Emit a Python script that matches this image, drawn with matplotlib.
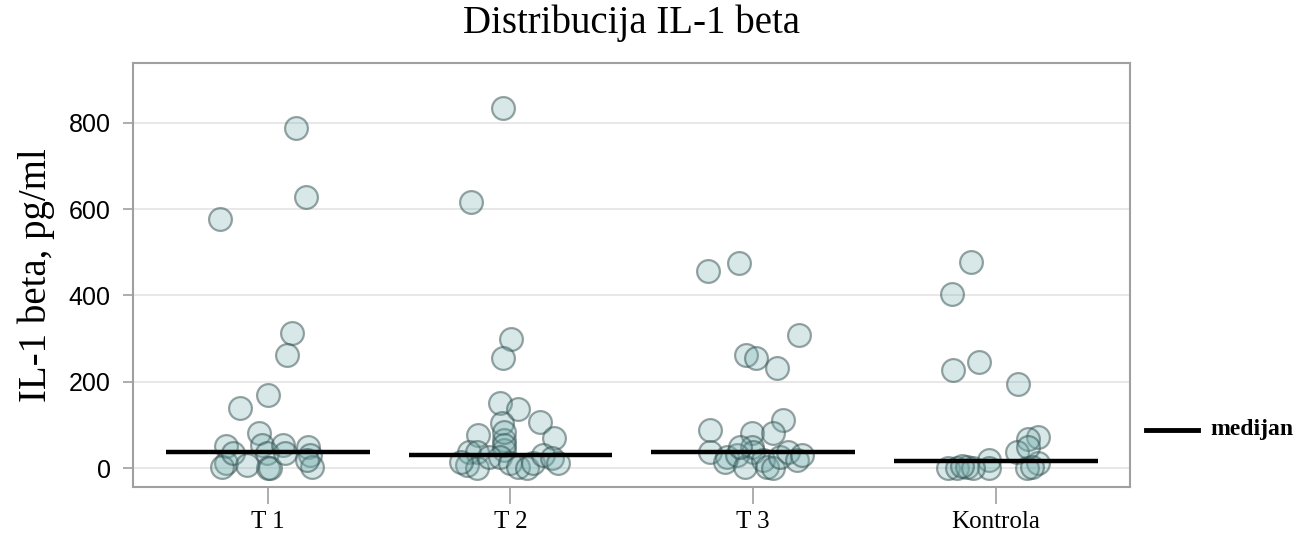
import matplotlib
matplotlib.use("Agg")
import matplotlib.pyplot as plt
from matplotlib.lines import Line2D
import numpy as np

# groups (jitter offsets in category units)
groups = ['T 1', 'T 2', 'T 3', 'Kontrola']

t1_vals = [789, 629, 578, 313, 262, 169, 139, 81, 51, 12, 3, 35, 7, 53, 35, 0, 0, 53, 35, 49, 30, 3, 19]
t1_jit = [0.116, 0.157, -0.198, 0.099, 0.079, 0.0, -0.116, -0.037, -0.173, -0.173, -0.19, -0.144, -0.087,
          -0.025, -0.004, 0.0, 0.008, 0.062, 0.07, 0.165, 0.173, 0.181, 0.161]

t2_vals = [835, 617, 299, 255, 151, 137, 104, 107, 70, 77, 65, 42, 83, 53, 37, 37, 7, 0, 26, 26,
           12, 3, 0, 12, 30, 23, 12, 14]
t2_jit = [-0.029, -0.161, 0.004, -0.029, -0.045, 0.029, -0.033, 0.12, 0.181, -0.132, -0.025, -0.025,
          -0.025, -0.025, -0.169, -0.136, -0.181, -0.136, -0.087, -0.045, -0.004, 0.029, 0.07, 0.091,
          0.132, 0.173, 0.194, -0.202]

t3_vals = [457, 475, 308, 262, 255, 232, 88, 111, 81, 81, 49, 37, 37, 26, 14, 30, 3, 19, 3, 0,
           26, 37, 19, 30, 49]
t3_jit = [-0.186, -0.058, 0.19, -0.029, 0.012, 0.099, -0.177, 0.124, -0.004, 0.083, -0.004, 0.0,
          -0.177, -0.107, -0.115, -0.066, -0.033, 0.041, 0.058, 0.083, 0.111, 0.144, 0.181, 0.202, -0.054]

ko_vals = [478, 403, 246, 227, 195, 72, 67, 37, 19, 0, 12, 0, 0, 0, 3, 0, 49, 5, 2]
ko_jit = [-0.103, -0.18, -0.07, -0.178, 0.09, 0.173, 0.132, 0.087, -0.029, -0.029, 0.173, 0.128,
          -0.198, -0.161, -0.12, -0.095, 0.132, -0.14, 0.15]

values = [t1_vals, t2_vals, t3_vals, ko_vals]
jitter = [t1_jit, t2_jit, t3_jit, ko_jit]
medians = [36, 30, 37, 16]

plt.rcParams['font.family'] = ['Liberation Serif', 'DejaVu Serif']

fig = plt.figure(figsize=(12.97, 5.42), dpi=100)
ax = fig.add_axes([0.1025, 0.1015, 0.7685, 0.7825])

for i in range(len(groups)):
    xs = i + np.array(jitter[i])
    ax.scatter(xs, values[i], s=270, facecolor=(0.45, 0.68, 0.68, 0.28),
               edgecolor=(0.2, 0.3, 0.3, 0.5), linewidth=1.6, zorder=3)
    ax.hlines(medians[i], i - 0.42, i + 0.42, color='black', linewidth=3.2, zorder=4)

ax.set_xlim(-0.556, 3.552)
ax.set_ylim(-44, 939)
ax.set_yticks([0, 200, 400, 600, 800])
ax.set_xticks(range(len(groups)))
ax.set_xticklabels(groups, fontsize=18)
for lab in ax.get_yticklabels():
    lab.set_family(['Liberation Sans', 'DejaVu Sans'])
    lab.set_fontsize(18)
ax.grid(axis='y', color='#e4e4e4', linewidth=1.2, zorder=0)
ax.set_axisbelow(True)
for sp in ax.spines.values():
    sp.set_color('#a0a0a0')
    sp.set_linewidth(1.5)
ax.tick_params(axis='both', color='#a0a0a0', length=7, width=1.2)
ax.tick_params(axis='y', pad=9)
ax.tick_params(axis='x', length=12, pad=5)
ax.set_ylabel('IL-1 beta, pg/ml', fontsize=28, labelpad=10)

fig.text(0.487, 0.958, 'Distribucija IL-1 beta', ha='center', va='center', fontsize=28)

# legend for the median line
fig.add_artist(Line2D([1146 / 1297, 1198 / 1297], [1 - 430 / 542, 1 - 430 / 542],
                      color='black', linewidth=3.5, transform=fig.transFigure))
fig.text(1210 / 1297, 1 - 430 / 542, 'medijan', ha='left', va='center',
         fontsize=17, fontweight='bold')

fig.savefig('out.png', dpi=100)
